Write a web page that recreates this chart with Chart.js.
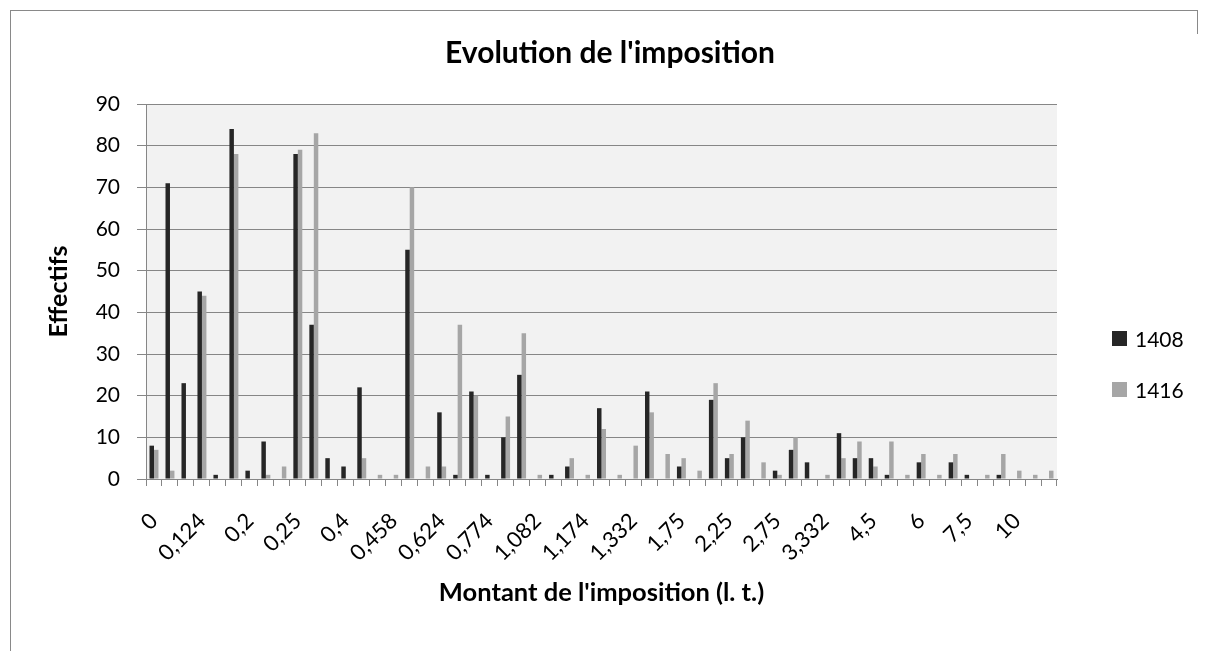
<!DOCTYPE html>
<html>
<head>
<meta charset="utf-8">
<title>Evolution de l'imposition</title>
<script src="https://cdn.jsdelivr.net/npm/chart.js@4"></script>
<style>
  html, body { margin: 0; padding: 0; background: #fff; }
  #wrap { position: relative; width: 1210px; height: 651px; overflow: hidden; }
  #frame { position: absolute; left: 10px; top: 10px; width: 1188px; height: 700px;
           border-top: 1px solid #898989; border-left: 1px solid #898989; box-sizing: border-box; }
  #frameRight { position: absolute; left: 1197px; top: 10px; width: 1px; height: 24px; background: #898989; }
  #legend { position: absolute; left: 1112px; top: 327px; font-family: Lato, sans-serif;
            font-size: 21px; color: #000; }
  #legend div { height: 51px; display: flex; align-items: flex-start; }
  #legend span.box { display: inline-block; width: 15px; height: 15px; margin: 4px 8px 0 0; }
  #legend span.txt { line-height: 23px; }
</style>
</head>
<body>
<div id="wrap">
  <div id="frame"></div>
  <div id="frameRight"></div>
  <canvas id="impotChart" width="1210" height="651"></canvas>
  <div id="legend"></div>
</div>
<script>
// labels shown on the x axis (one every third category)
const tickLabels = ['0', '0,124', '0,2', '0,25', '0,4', '0,458', '0,624', '0,774', '1,082', '1,174',
  '1,332', '1,75', '2,25', '2,75', '3,332', '4,5', '6', '7,5', '10'];

// effectifs per category, null = no bar
const s1408 = [8, 71, 23, 45, 1, 84, 2, 9, null, 78, 37, 5, 3, 22, null, null, 55, null, 16, 1,
  21, 1, 10, 25, null, 1, 3, null, 17, null, null, 21, null, 3, null, 19, 5, 10, null, 2,
  7, 4, null, 11, 5, 5, 1, null, 4, null, 4, 1, null, 1, null, null, null];
const s1416 = [7, 2, null, 44, null, 78, null, 1, 3, 79, 83, null, null, 5, 1, 1, 70, 3, 3, 37,
  20, null, 15, 35, 1, null, 5, 1, 12, 1, 8, 16, 6, 5, 2, 23, 6, 14, 4, 1,
  10, null, 1, 5, 9, 3, 9, 1, 6, 1, 6, null, 1, 6, 2, 1, 2];

const seriesNames = ['1408', '1416'];
const seriesColors = ['#262626', '#a6a6a6'];

// categories: the named tick every third slot, blank between
const categories = s1408.map((v, i) => (i % 3 === 0 ? tickLabels[i / 3] : ''));

const gridColor = '#868686';
const fontFamily = 'Lato, sans-serif';

const plotBackground = {
  id: 'plotBackground',
  beforeDraw(chart) {
    const {ctx, chartArea} = chart;
    ctx.save();
    ctx.fillStyle = '#f2f2f2';
    ctx.fillRect(chartArea.left, chartArea.top, chartArea.right - chartArea.left, chartArea.bottom - chartArea.top);
    ctx.restore();
  }
};

const ctx = document.getElementById('impotChart').getContext('2d');
const impotChart = new Chart(ctx, {
  type: 'bar',
  data: {
    labels: categories,
    datasets: [{
      label: seriesNames[0],
      data: s1408,
      backgroundColor: seriesColors[0]
    }, {
      label: seriesNames[1],
      data: s1416,
      backgroundColor: seriesColors[1]
    }]
  },
  options: {
    responsive: false,
    animation: false,
    datasets: {
      bar: { categoryPercentage: 0.56, barPercentage: 1.0 }
    },
    layout: {
      padding: { top: 30, left: 10, right: 0, bottom: 40 }
    },
    plugins: {
      legend: { display: false },
      tooltip: { enabled: false },
      title: {
        display: true,
        text: "Evolution de l'imposition",
        color: '#000',
        font: { family: fontFamily, size: 30, weight: 'bold', lineHeight: 1.2 },
        padding: { top: 5, bottom: 33 }
      }
    },
    scales: {
      x: {
        afterFit(scale) { scale.height = 132; },
        grid: {
          offset: true,
          drawOnChartArea: false,
          drawTicks: true,
          tickLength: 7,
          color: gridColor,
          tickColor: gridColor
        },
        border: { color: gridColor, width: 1 },
        ticks: {
          autoSkip: false,
          minRotation: 45,
          maxRotation: 45,
          padding: 22,
          color: '#000',
          font: { family: fontFamily, size: 22 }
        },
        title: {
          display: true,
          text: "Montant de l'imposition (l. t.)",
          color: '#000',
          font: { family: fontFamily, size: 25.5, weight: 'bold', lineHeight: 1.2 },
          padding: { top: 0, bottom: 3 }
        }
      },
      y: {
        min: 0,
        max: 90,
        afterFit(scale) { scale.width = 136; },
        grid: {
          color: gridColor,
          tickColor: gridColor,
          tickLength: 9,
          lineWidth: 1
        },
        border: { color: gridColor, width: 1 },
        ticks: {
          stepSize: 10,
          padding: 17,
          color: '#000',
          font: { family: fontFamily, size: 21 }
        },
        title: {
          display: true,
          text: 'Effectifs',
          color: '#000',
          font: { family: fontFamily, size: 25, weight: 'bold', lineHeight: 1.2 },
          padding: { top: 34, bottom: 0 }
        }
      },
      // empty right-hand band that leaves room for the legend
      legendSpace: {
        position: 'right',
        afterFit(scale) { scale.width = 153; },
        grid: { display: false },
        border: { display: false },
        ticks: { display: false }
      }
    }
  },
  plugins: [plotBackground]
});

// legend on the right, built from the chart's datasets
const legendBox = document.getElementById('legend');
impotChart.data.datasets.forEach(ds => {
  const row = document.createElement('div');
  row.innerHTML = '<span class="box" style="background:' + ds.backgroundColor + '"></span><span class="txt">' + ds.label + '</span>';
  legendBox.appendChild(row);
});
</script>
</body>
</html>
